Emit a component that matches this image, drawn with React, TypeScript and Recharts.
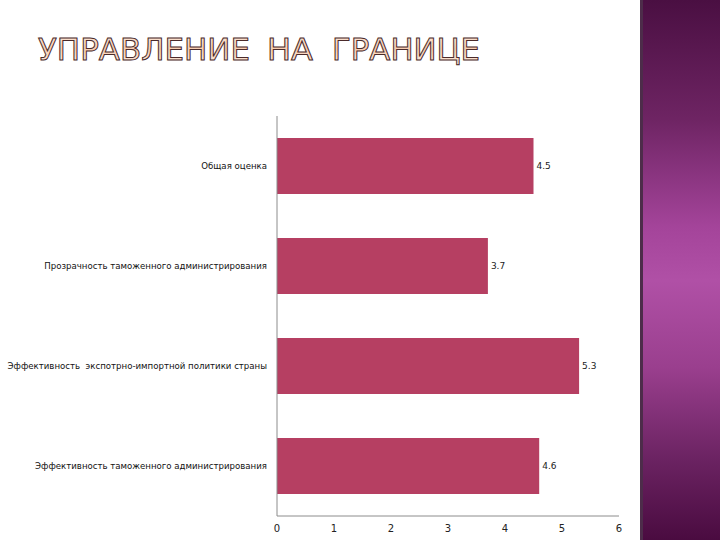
import { BarChart, Bar, XAxis, YAxis, LabelList } from "recharts";

const categories = [
  "Общая оценка",
  "Прозрачность таможенного администрирования",
  "Эффективность  экспотрно-импортной политики страны",
  "Эффективность таможенного администрирования",
];
const scores = [4.5, 3.7, 5.3, 4.6];
const xTicks = [0, 1, 2, 3, 4, 5, 6];

const BAR_COLOR = "#b63f62";
const AXIS_COLOR = "#8c8c8c";

const data = categories.map((name, i) => ({ name, value: scores[i] }));

// one-line category label, right aligned against the axis
function CategoryTick(props: any) {
  const { x, y, payload } = props;
  return (
    <text
      x={x - 2}
      y={y}
      dy={3}
      textAnchor="end"
      fill="#111"
      fontSize={8.6}
      fontFamily="DejaVu Sans"
      style={{ whiteSpace: "pre" }}
    >
      {payload.value}
    </text>
  );
}

function Title() {
  return (
    <svg width={500} height={80} style={{ position: "absolute", left: 0, top: 0 }}>
      <defs>
        <linearGradient id="titleFill" x1="0" y1="0" x2="0" y2="1">
          <stop offset="0%" stopColor="#fdeee4" />
          <stop offset="50%" stopColor="#f8cdb0" />
          <stop offset="100%" stopColor="#fdf0e6" />
        </linearGradient>
      </defs>
      <g
        fontFamily="DejaVu Sans"
        fontSize={31}
        fill="url(#titleFill)"
        stroke="#4a2a2a"
        strokeWidth={1}
      >
        <text x={38} y={60} textLength={212} lengthAdjust="spacingAndGlyphs">
          УПРАВЛЕНИЕ
        </text>
        <text x={267} y={60} textLength={46} lengthAdjust="spacingAndGlyphs">
          НА
        </text>
        <text x={332} y={60} textLength={148} lengthAdjust="spacingAndGlyphs">
          ГРАНИЦЕ
        </text>
      </g>
    </svg>
  );
}

export default function App() {
  return (
    <div
      style={{
        position: "fixed",
        left: 0,
        top: 0,
        width: 720,
        height: 540,
        background: "#ffffff",
        overflow: "hidden",
        fontFamily: "DejaVu Sans",
      }}
    >
      <Title />
      <div
        style={{
          position: "absolute",
          left: 640,
          top: 0,
          width: 80,
          height: 540,
          borderLeft: "3px solid #4d2c4a",
          boxSizing: "border-box",
          background:
            "linear-gradient(to bottom, #4a0f42 0%, #6e2463 22%, #a4449a 42%, #b050a6 52%, #9a3f8e 68%, #6b2362 85%, #4a0b40 100%)",
        }}
      />
      <div style={{ position: "absolute", left: 0, top: 0 }}>
        <BarChart
          width={720}
          height={540}
          data={data}
          layout="vertical"
          margin={{ top: 116, right: 101, bottom: 0, left: 0 }}
        >
          <XAxis
            type="number"
            domain={[0, 6]}
            ticks={xTicks}
            height={24}
            axisLine={{ stroke: AXIS_COLOR }}
            tickLine={false}
            tick={{ fill: "#222", fontSize: 10, fontFamily: "DejaVu Sans" }}
            tickMargin={3}
          />
          <YAxis
            type="category"
            dataKey="name"
            width={277}
            axisLine={{ stroke: AXIS_COLOR }}
            tickLine={false}
            tick={<CategoryTick />}
            interval={0}
          />
          <Bar dataKey="value" fill={BAR_COLOR} barSize={56} isAnimationActive={false}>
            <LabelList
              dataKey="value"
              position="right"
              offset={3}
              style={{ fill: "#222", fontSize: 9, fontFamily: "DejaVu Sans" }}
            />
          </Bar>
        </BarChart>
      </div>
    </div>
  );
}
